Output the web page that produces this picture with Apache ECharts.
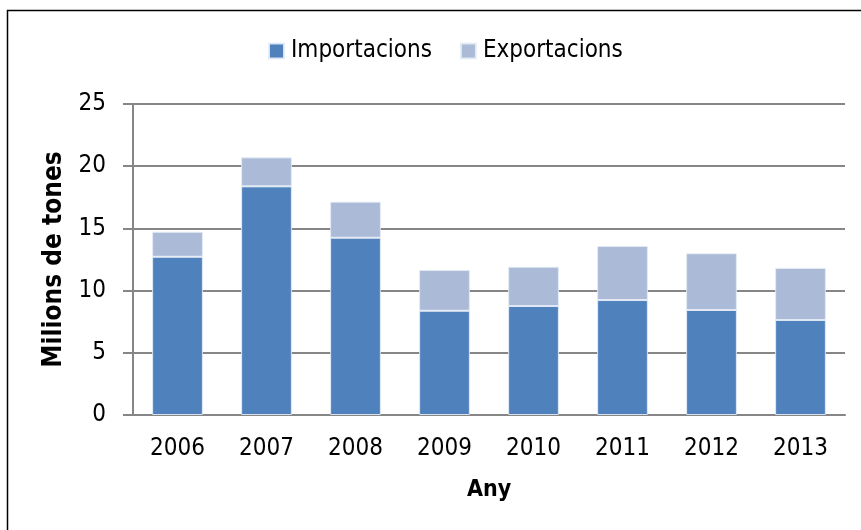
<!DOCTYPE html>
<html><head><meta charset="utf-8">
<script src="https://cdn.jsdelivr.net/npm/echarts@6/dist/echarts.min.js"></script>
<style>html,body{margin:0;padding:0;background:#fff}#c{width:861px;height:530px}</style>
</head><body><div id="c"></div>
<script>
const years = ['2006','2007','2008','2009','2010','2011','2012','2013'];
const importacions = [12.72, 18.38, 14.25, 8.38, 8.76, 9.24, 8.44, 7.64];
const exportacions = [2.01, 2.33, 2.90, 3.28, 3.16, 4.35, 4.56, 4.18];
const yTicks = [0, 5, 10, 15, 20, 25];

const FONT = '"DejaVu Sans Condensed","Roboto",sans-serif';
const chart = echarts.init(document.getElementById('c'), null, {renderer:'canvas'});
chart.setOption({
  animation:false,
  textStyle:{fontFamily:FONT},
  graphic:[{type:'rect',shape:{x:7.5,y:10.5,width:900,height:600},style:{fill:'none',stroke:'#000',lineWidth:1.5},silent:true}],
  legend:{
    top:34,left:263,itemWidth:15,itemHeight:15,itemGap:28,icon:'rect',
    textStyle:{fontFamily:FONT,fontSize:24,color:'#000',padding:[0,0,0,2]},
    data:['Importacions','Exportacions']
  },
  grid:{left:133,right:16,top:104,bottom:115,containLabel:false},
  xAxis:{
    type:'category',data:years,
    name:'Any',nameLocation:'middle',nameGap:64,
    nameTextStyle:{fontFamily:FONT,fontSize:23,fontWeight:'bold',color:'#000'},
    axisLine:{lineStyle:{color:'#868686',width:2}},
    axisTick:{show:false},
    axisLabel:{fontFamily:FONT,fontSize:24,color:'#000',margin:22}
  },
  yAxis:{
    type:'value',min:yTicks[0],max:yTicks[yTicks.length-1],interval:5,
    name:'Milions de tones',nameLocation:'middle',nameGap:63,
    nameTextStyle:{fontFamily:FONT,fontSize:26,fontWeight:'bold',color:'#000'},
    axisLine:{show:true,lineStyle:{color:'#868686',width:2}},
    axisTick:{show:true,length:10,lineStyle:{color:'#868686',width:2}},
    axisLabel:{fontFamily:FONT,fontSize:24,color:'#000',margin:27},
    splitLine:{lineStyle:{color:'#868686',width:2}}
  },
  series:[
    {name:'Importacions',type:'bar',stack:'t',data:importacions,barWidth:'57%',
     itemStyle:{color:'#4F81BD',borderColor:'rgba(230,236,246,0.9)',borderWidth:1}},
    {name:'Exportacions',type:'bar',stack:'t',data:exportacions,barWidth:'57%',
     itemStyle:{color:'#AABAD7',borderColor:'rgba(230,236,246,0.9)',borderWidth:1}}
  ]
});
</script></body></html>
